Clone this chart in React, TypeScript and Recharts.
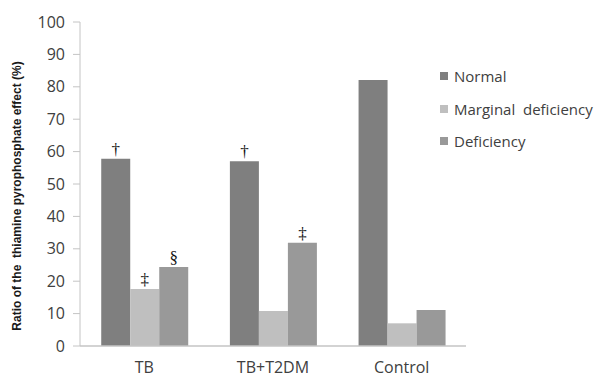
import {BarChart, Bar, XAxis, YAxis, Legend, LabelList} from 'recharts';

const groups = ['TB', 'TB+T2DM', 'Control'];
const normal = [57.8, 57, 82.1];
const marginal = [17.6, 10.8, 7];
const deficiency = [24.4, 31.9, 11.1];
const normalMarks = ['†', '†', ''];
const marginalMarks = ['‡', '', ''];
const deficiencyMarks = ['§', '‡', ''];
const yTicks = [0, 10, 20, 30, 40, 50, 60, 70, 80, 90, 100];

const series = [
  {key: 'normal', name: 'Normal', fill: '#7f7f7f', mark: 'normalMark'},
  {key: 'marginal', name: 'Marginal\u00a0 deficiency', fill: '#bfbfbf', mark: 'marginalMark'},
  {key: 'deficiency', name: 'Deficiency', fill: '#999999', mark: 'deficiencyMark'},
];

const data = groups.map((g, i) => ({
  group: g,
  normal: normal[i],
  marginal: marginal[i],
  deficiency: deficiency[i],
  normalMark: normalMarks[i],
  marginalMark: marginalMarks[i],
  deficiencyMark: deficiencyMarks[i],
}));

const font = '"Open Sans", "Liberation Sans", sans-serif';

// legend keeps the series order, whatever recharts sorts it into
const LegendBox = () => (
  <div style={{fontFamily: font, fontSize: 15, color: '#404040'}}>
    {series.map((s) => (
      <div key={s.key} style={{display: 'flex', alignItems: 'center', height: 32.5, whiteSpace: 'pre'}}>
        <span style={{width: 8, height: 8, background: s.fill, marginRight: 6, display: 'inline-block'}} />
        {s.name}
      </div>
    ))}
  </div>
);

export default function App() {
  return (
    <div style={{position: 'absolute', left: 0, top: 0, background: '#fff'}}>
      <BarChart
        width={602}
        height={378}
        data={data}
        margin={{top: 22, right: 136, bottom: 2, left: 0}}
        barCategoryGap="16.5%"
        barGap={0}
      >
        <XAxis
          dataKey="group"
          height={30}
          tickLine={false}
          tickSize={0}
          tickMargin={16}
          axisLine={{stroke: '#c4c4c4', strokeWidth: 1.5}}
          tick={{fill: '#404040', fontSize: 16, fontFamily: font}}
        />
        <YAxis
          width={80}
          domain={[0, 100]}
          ticks={yTicks}
          interval={0}
          tickSize={7}
          tickMargin={8}
          axisLine={{stroke: '#c4c4c4'}}
          tickLine={{stroke: '#c4c4c4'}}
          tick={{fill: '#404040', fontSize: 16, fontFamily: font}}
          label={{
            value: 'Ratio of the\u00a0 thiamine pyrophosphate effect (%)',
            angle: -90,
            position: 'center',
            dx: -23,
            dy: 12,
            style: {fontSize: 12, fontWeight: 'bold', fontFamily: '"Liberation Sans", Arial, sans-serif', fill: '#1a1a1a', textAnchor: 'middle'},
          }}
        />
        <Legend
          layout="vertical"
          align="center"
          verticalAlign="middle"
          content={<LegendBox />}
          wrapperStyle={{left: 440, top: 60, width: 160}}
        />
        {series.map((s) => (
          <Bar key={s.key} dataKey={s.key} name={s.name} fill={s.fill} isAnimationActive={false}>
            <LabelList
              dataKey={s.mark}
              position="top"
              offset={4}
              fill="#111"
              fontSize={17}
              fontFamily='"Liberation Serif", serif'
            />
          </Bar>
        ))}
      </BarChart>
    </div>
  );
}
